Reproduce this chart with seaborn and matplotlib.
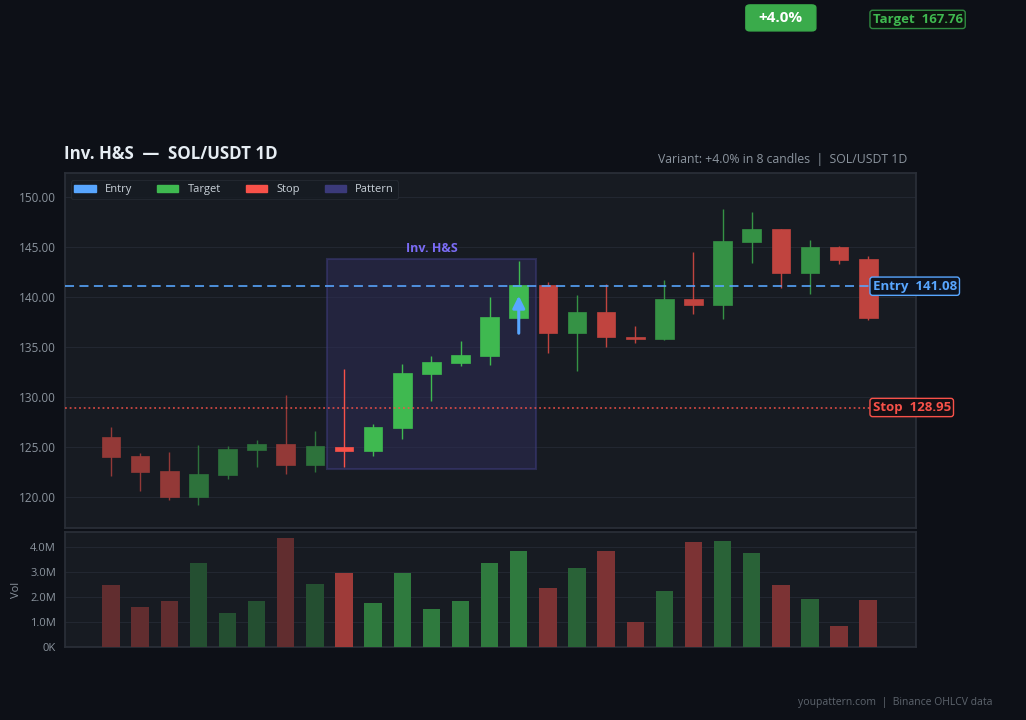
import numpy as np
import pandas as pd
import matplotlib
matplotlib.use("Agg")
import matplotlib.pyplot as plt
import matplotlib.patches as mpatches
from matplotlib.ticker import FuncFormatter
import seaborn as sns

# ---------------- data ----------------
opens  = [126.0, 124.1, 122.6, 120.0, 122.2, 124.7, 125.3, 123.2, 125.0, 124.6,
          126.9, 132.3, 133.4, 134.1, 137.9, 141.2, 136.4, 138.5, 135.95, 135.8,
          139.8, 139.2, 145.5, 146.8, 142.4, 145.0, 143.8]
highs  = [127.0, 124.4, 124.5, 125.2, 125.1, 125.7, 130.2, 126.6, 132.8, 127.3,
          133.3, 134.1, 135.6, 140.0, 143.6, 141.5, 140.2, 141.3, 137.1, 141.7,
          144.5, 148.8, 148.5, 146.8, 145.7, 145.1, 144.1]
lows   = [122.1, 120.6, 119.7, 119.2, 121.8, 123.0, 122.3, 122.5, 123.0, 124.1,
          125.8, 129.6, 133.1, 133.2, 137.8, 134.4, 132.6, 135.0, 135.4, 135.7,
          138.3, 137.8, 143.4, 140.9, 140.3, 143.3, 137.7]
closes = [124.0, 122.5, 120.0, 122.3, 124.8, 125.3, 123.2, 125.1, 124.6, 127.0,
          132.4, 133.5, 134.2, 138.0, 141.2, 136.4, 138.5, 136.0, 135.8, 139.8,
          139.2, 145.6, 146.8, 142.4, 145.0, 143.7, 137.9]
volumes_m = [2.48, 1.60, 1.84, 3.36, 1.36, 1.84, 4.36, 2.52, 2.96, 1.76,
             2.96, 1.52, 1.84, 3.36, 3.84, 2.36, 3.16, 3.84, 1.00, 2.24,
             4.20, 4.24, 3.76, 2.48, 1.92, 0.84, 1.88]

pattern_start, pattern_end = 8, 14
entry_price = 141.08
target_price = 167.76
stop_price = 128.95
variant_pct = "+4.0%"
title = "Inv. H&S  —  SOL/USDT 1D"
subtitle = "Variant: +4.0% in 8 candles  |  SOL/USDT 1D"
footer = "youpattern.com  |  Binance OHLCV data"
pattern_label = "Inv. H&S"
price_ticks = [120, 125, 130, 135, 140, 145, 150]
vol_ticks_m = [0, 1, 2, 3, 4]

# ---------------- style ----------------
FIG_BG = "#0d1017"
AX_BG = "#171b22"
GRID = "#222731"
SPINE = "#2a2f38"
TXT = "#8b949e"
GREEN = "#3fb950"
RED = "#f85149"
BLUE = "#58a6ff"
PURPLE = "#7b6cf6"

sns.set_theme(style="dark", rc={
    "figure.facecolor": FIG_BG, "axes.facecolor": AX_BG,
    "axes.edgecolor": SPINE, "grid.color": GRID,
    "xtick.color": TXT, "ytick.color": TXT, "text.color": "#e6edf3",
    "axes.labelcolor": TXT,
})
plt.rcParams["font.family"] = ["Open Sans", "Noto Sans", "DejaVu Sans"]


def blend(hexcol, alpha, bg=AX_BG):
    c = np.array(matplotlib.colors.to_rgb(hexcol))
    b = np.array(matplotlib.colors.to_rgb(bg))
    return tuple(alpha * c + (1 - alpha) * b)


n = len(opens)
idx = np.arange(n)
df = pd.DataFrame({"i": idx, "o": opens, "h": highs, "l": lows, "c": closes,
                   "v": np.array(volumes_m) * 1e6})
df["up"] = df["c"] >= df["o"]


def phase_alpha(i):
    if i < pattern_start:
        return 0.55
    if i <= pattern_end:
        return 1.0
    return 0.75


cand_colors = [blend(GREEN if u else RED, phase_alpha(i)) for i, u in zip(df.i, df.up)]
vol_colors = [blend(GREEN if u else RED, phase_alpha(i) * 0.6) for i, u in zip(df.i, df.up)]

fig = plt.figure(figsize=(10.26, 7.2), dpi=100)
ax = fig.add_axes([65 / 1026, 1 - 528 / 720, 851 / 1026, 355 / 720])
axv = fig.add_axes([65 / 1026, 1 - 647 / 720, 851 / 1026, 115 / 720])

# ---------------- candles ----------------
body_bottom = np.minimum(df.o, df.c)
body_h = np.maximum(np.abs(df.c - df.o), 0.2)
ax.vlines(df.i, df.l, df.h, colors=cand_colors, linewidth=1.0, zorder=3)
ax.bar(df.i, body_h, bottom=body_bottom, width=0.64, color=cand_colors,
       edgecolor=cand_colors, linewidth=0.5, zorder=4)

# pattern rect
pl = min(lows[pattern_start:pattern_end + 1]) - 0.15
ph = max(highs[pattern_start:pattern_end + 1]) + 0.15
rect = mpatches.Rectangle((pattern_start - 0.58, pl), (pattern_end - pattern_start) + 1.16, ph - pl,
                          facecolor="#2f2d5a", alpha=0.5, edgecolor="#3f3d80", linewidth=1.5, zorder=2)
ax.add_patch(rect)
ax.text((pattern_start + pattern_end) / 2, ph + 0.5, pattern_label, color=PURPLE,
        fontsize=9, fontweight="bold", ha="center", va="bottom", zorder=6)

# levels
ax.axhline(entry_price, color=BLUE, linestyle=(0, (5, 3)), linewidth=1.3, alpha=0.9, zorder=5)
ax.axhline(stop_price, color=RED, linestyle=(0, (1.0, 1.6)), linewidth=1.3, alpha=0.8, zorder=5)

ax.set_xlim(-1.58, n + 0.64)
ax.set_ylim(116.9, 152.4)

lx = n - 0.85
ax.text(lx, entry_price, f"Entry  {entry_price:.2f}", color=BLUE, fontsize=9.5, fontweight="bold",
        va="center", ha="left", clip_on=False, zorder=7,
        bbox=dict(boxstyle="round,pad=0.2", facecolor="#0d1422", edgecolor=BLUE, linewidth=1))
ax.text(lx, stop_price, f"Stop  {stop_price:.2f}", color=RED, fontsize=9.5, fontweight="bold",
        va="center", ha="left", clip_on=False, zorder=7,
        bbox=dict(boxstyle="round,pad=0.2", facecolor="#140f14", edgecolor=RED, linewidth=1))
ax.text(lx, target_price, f"Target  {target_price:.2f}", color=GREEN, fontsize=9.5, fontweight="bold",
        va="center", ha="left", clip_on=False, zorder=7,
        bbox=dict(boxstyle="round,pad=0.2", facecolor="#0d1410", edgecolor="#2f8a40", linewidth=1))

# variant badge anchored at (candle 23, target price)
bx, by = fig.transFigure.inverted().transform(ax.transData.transform((23, target_price)))
by += 1.5 / 720
bw, bh = 70 / 1026, 26 / 720
badge = mpatches.FancyBboxPatch((bx - bw / 2, by - bh / 2), bw, bh,
                                boxstyle="round,pad=0,rounding_size=0.004",
                                transform=fig.transFigure, facecolor="#3aab4b",
                                edgecolor="#3aab4b", linewidth=1, zorder=6)
fig.add_artist(badge)
fig.text(bx, by, variant_pct, color="white", fontsize=11, fontweight="bold",
         va="center", ha="center", zorder=7)

# arrow
ax.annotate("", xy=(pattern_end, 140.4), xytext=(pattern_end, 136.1),
            arrowprops=dict(arrowstyle="-|>,head_width=0.3,head_length=0.6", color=BLUE, lw=2.2),
            zorder=8)

ax.set_yticks(price_ticks)
ax.yaxis.set_major_formatter(FuncFormatter(lambda v, p: f"{v:.2f}"))
ax.set_xticks(idx[::3])
ax.set_xticklabels([])
ax.grid(axis="y", color=GRID, linewidth=0.8)
ax.grid(axis="x", visible=False)
ax.tick_params(axis="both", length=3.5, width=0.8, color="#6e7681", labelsize=8.5, pad=3)
for s in ax.spines.values():
    s.set_color(SPINE)

# legend
handles = [mpatches.Patch(color=BLUE, label="Entry"),
           mpatches.Patch(color=GREEN, label="Target"),
           mpatches.Patch(color=RED, label="Stop"),
           mpatches.Patch(color="#3b3a7a", label="Pattern")]
leg = ax.legend(handles=handles, loc="upper left", ncol=4, fontsize=8, frameon=True,
                facecolor="#161b22", edgecolor="#262b33", labelcolor="#c9d1d9",
                handlelength=1.9, handleheight=0.6, columnspacing=2.3,
                borderpad=0.35, bbox_to_anchor=(0.0, 0.995))
leg.get_frame().set_linewidth(0.8)

ax.set_title(title, loc="left", fontsize=12.2, fontweight="bold", color="#e6edf3", pad=10, x=-0.001)
fig.text(907 / 1026, 1 - 159 / 720, subtitle, ha="right", va="center", fontsize=8.85, color=TXT)

# ---------------- volume ----------------
sns.barplot(data=df, x="i", y="v", hue="i", palette=vol_colors, legend=False,
            width=0.6, saturation=1, ax=axv, linewidth=0, zorder=3)
axv.set_xlim(-1.58, n + 0.64)
axv.set_ylim(0, 4.6e6)
axv.set_yticks([t * 1e6 for t in vol_ticks_m])
axv.yaxis.set_major_formatter(FuncFormatter(lambda v, p: "0K" if v == 0 else f"{v / 1e6:.1f}M"))
axv.set_xticks(idx[::3])
axv.set_xticklabels([])
axv.set_xlabel("")
axv.set_ylabel("Vol", fontsize=8, color=TXT, labelpad=6)
axv.grid(axis="y", color=GRID, linewidth=0.8)
axv.grid(axis="x", visible=False)
axv.tick_params(axis="both", length=3.5, width=0.8, color="#6e7681", labelsize=8, pad=3)
for s in axv.spines.values():
    s.set_color(SPINE)

fig.text(992 / 1026, 1 - 703 / 720, footer, ha="right", va="center", fontsize=7.5, color="#5d646d")

fig.savefig("out.png", dpi=100, facecolor=FIG_BG)
